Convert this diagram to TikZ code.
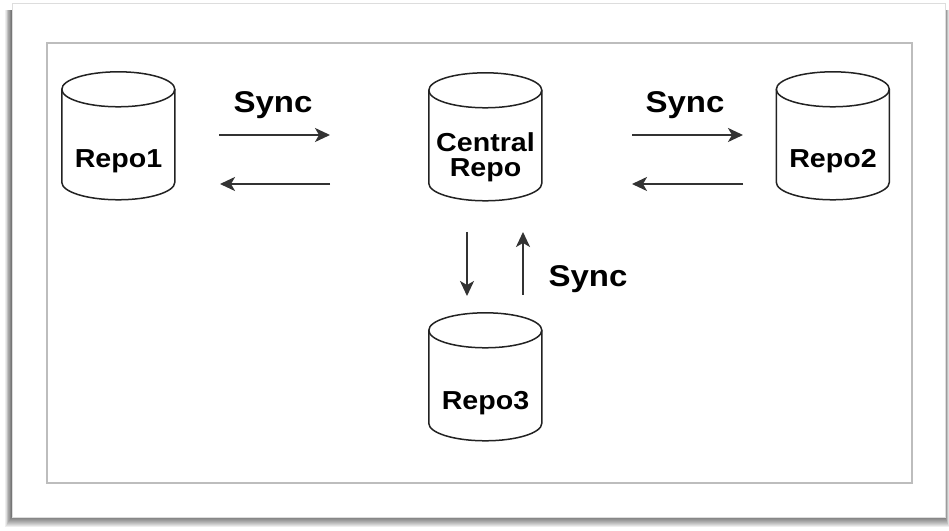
\documentclass[tikz,border=0pt]{standalone}
\usepackage{fontspec}
\setmainfont{Liberation Sans}
\newfontfamily\labelfont[FakeStretch=1.1]{Liberation Sans Bold}
\usetikzlibrary{arrows.meta}
\definecolor{inkline}{HTML}{222222}
\definecolor{arrowink}{HTML}{333333}
\definecolor{frameline}{HTML}{BDBDBD}
\definecolor{cardedge}{HTML}{DDDDDD}
\tikzset{
  cylline/.style={draw=inkline, line width=1.5pt, fill=white},
  repobox/.style={minimum width=113pt, minimum height=128pt, inner sep=0pt, draw=none},
  repolabel/.style={font=\labelfont\fontsize{26}{25.5}\selectfont, text=black, align=center, inner sep=0pt, anchor=base},
  synclabel/.style={font=\labelfont\fontsize{30}{30}\selectfont, text=black, inner sep=0pt, anchor=base},
  syncarrow/.style={draw=arrowink, line width=2pt, -{Stealth[length=15pt,width=14pt,inset=4pt]}},
}
\newcommand\repocyl[5]{% name, cx, top y, label baseline y, label
  \node[repobox] (#1) at (#2,#3-64) {};
  \draw[cylline] (#1.north west) ++(0,-17.5) coordinate (#1-tl) -- ++(0,-93)
    arc[start angle=180,end angle=360,x radius=56.5,y radius=17.5] -- ++(0,93)
    arc[start angle=0,end angle=180,x radius=56.5,y radius=17.5] -- cycle;
  \draw[cylline, fill=none] (#1-tl) arc[start angle=180,end angle=360,x radius=56.5,y radius=17.5];
  \node[repolabel] (#1-label) at (#2,#4) {#5};
}
\begin{document}
\begin{tikzpicture}[x=1pt,y=1pt]
\useasboundingbox (0,0) rectangle (949,530);
\fill[white] (0,0) rectangle (949,530);
% card shadow
\foreach \k in {0,...,11}
  \fill[black, opacity=0.065] (12-0.6*\k, 14-\k) rectangle (945+0.35*\k, 520);
% card
\fill[white] (12,13) rectangle (945,527);
\draw[cardedge, line width=0.8pt] (12,13) rectangle (945,527);
% inner frame
\draw[frameline, line width=1.2pt] (47,47) rectangle (912,487);
% repositories
\repocyl{repo1}{118.5}{458}{362}{Repo1}
\repocyl{central}{485.5}{457}{353}{Central\\Repo}
\repocyl{repo2}{833}{458}{362}{Repo2}
\repocyl{repo3}{485.5}{217}{121}{Repo3}
% arrow end points
\coordinate (a1s) at (219,395); \coordinate (a1e) at (330,395);
\coordinate (a2s) at (330,346); \coordinate (a2e) at (220,346);
\coordinate (a3s) at (632,395); \coordinate (a3e) at (743,395);
\coordinate (a4s) at (743,346); \coordinate (a4e) at (632,346);
\coordinate (a5s) at (467,298); \coordinate (a5e) at (467,234);
\coordinate (a6s) at (523,235); \coordinate (a6e) at (523,298);
\draw[syncarrow] (a1s) -- (a1e);
\draw[syncarrow] (a2s) -- (a2e);
\draw[syncarrow] (a3s) -- (a3e);
\draw[syncarrow] (a4s) -- (a4e);
\draw[syncarrow] (a5s) -- (a5e);
\draw[syncarrow] (a6s) -- (a6e);
% labels
\node[synclabel] (sync1) at (273,417) {Sync};
\node[synclabel] (sync2) at (685,417) {Sync};
\node[synclabel] (sync3) at (588,243) {Sync};
\end{tikzpicture}
\end{document}
